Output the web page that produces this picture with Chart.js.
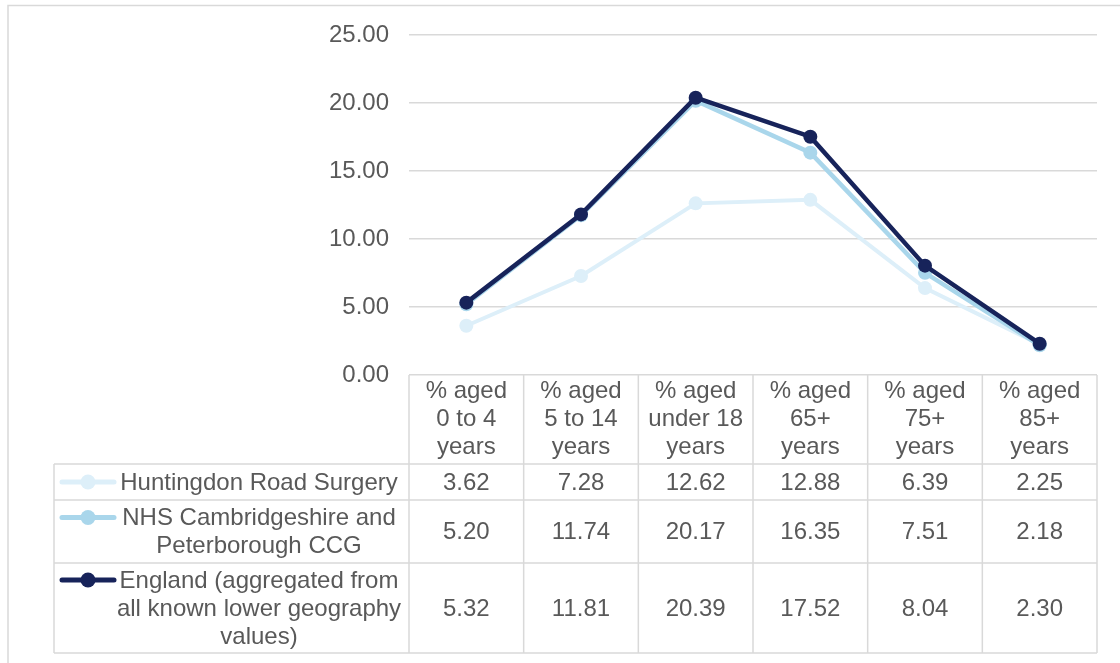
<!DOCTYPE html>
<html><head><meta charset="utf-8">
<script src="https://cdn.jsdelivr.net/npm/chart.js@4.4.1/dist/chart.umd.min.js"></script>
<style>html,body{margin:0;padding:0;background:#fff;overflow:hidden}#wrap{width:1120px;height:663px;position:relative}</style>
</head><body><div id="wrap"><canvas id="c" width="1120" height="663"></canvas></div>
<script>
const categories = [["% aged","0 to 4","years"],["% aged","5 to 14","years"],["% aged","under 18","years"],["% aged","65+","years"],["% aged","75+","years"],["% aged","85+","years"]];
const seriesNames = [["Huntingdon Road Surgery"],["NHS Cambridgeshire and","Peterborough CCG"],["England (aggregated from","all known lower geography","values)"]];
const huntingdon = [3.62, 7.28, 12.62, 12.88, 6.39, 2.25];
const nhsCcg = [5.20, 11.74, 20.17, 16.35, 7.51, 2.18];
const england = [5.32, 11.81, 20.39, 17.52, 8.04, 2.30];
const yMin = 0, yMax = 25, yStep = 5;

const FONT = '"Liberation Sans", Arial, sans-serif';
const TEXT = '#595959';
const GRID = '#d9d9d9';

const tablePlugin = {
  id: 'dataTable',
  beforeDraw(chart) {
    const ctx = chart.ctx;
    ctx.save();
    ctx.fillStyle = '#fff';
    ctx.fillRect(0, 0, chart.width, chart.height);
    ctx.strokeStyle = GRID; ctx.lineWidth = 1.5;
    ctx.strokeRect(8, 5.5, 1300, 900);
    ctx.restore();
  },
  afterDraw(chart) {
    const ctx = chart.ctx, xs = chart.scales.x, area = chart.chartArea;
    const n = categories.length;
    const band = (area.right - area.left) / n;
    const rowLines = [464, 500, 563, 653];
    const legendLeft = 54;
    ctx.save();
    ctx.strokeStyle = GRID; ctx.lineWidth = 1.5;
    rowLines.forEach(y => { ctx.beginPath(); ctx.moveTo(legendLeft, y); ctx.lineTo(area.right, y); ctx.stroke(); });
    for (let i = 0; i <= n; i++) {
      const x = i < n ? xs.getPixelForValue(i) - band / 2 : xs.getPixelForValue(n - 1) + band / 2;
      ctx.beginPath(); ctx.moveTo(x, area.bottom); ctx.lineTo(x, rowLines[3]); ctx.stroke();
    }
    ctx.beginPath(); ctx.moveTo(legendLeft, rowLines[0]); ctx.lineTo(legendLeft, rowLines[3]); ctx.stroke();

    ctx.font = '24px ' + FONT;
    ctx.fillStyle = TEXT;
    ctx.textAlign = 'center';
    ctx.textBaseline = 'middle';
    const lh = 28;
    chart.data.datasets.forEach((ds, r) => {
      const top = rowLines[r], bot = rowLines[r + 1];
      const mid = (top + bot) / 2;
      ds.data.forEach((v, i) => {
        ctx.fillStyle = TEXT;
        ctx.fillText(v.toFixed(2), xs.getPixelForValue(i), mid + 1);
      });
      const lines = seriesNames[r];
      const firstY = mid - (lines.length - 1) * lh / 2 + 1;
      lines.forEach((t, k) => ctx.fillText(t, 259, firstY + k * lh));
      const ky = firstY - 1;
      ctx.strokeStyle = ds.borderColor; ctx.lineWidth = 5; ctx.lineCap = 'round';
      ctx.beginPath(); ctx.moveTo(62, ky); ctx.lineTo(114, ky); ctx.stroke();
      ctx.fillStyle = ds.borderColor;
      ctx.beginPath(); ctx.arc(88, ky, 7.5, 0, Math.PI * 2); ctx.fill();
    });
    ctx.restore();
  }
};

function mkDs(label, data, color, width, order) {
  return { label, data, borderColor: color, backgroundColor: color, pointBackgroundColor: color,
    pointBorderColor: color, pointBorderWidth: 0, pointRadius: 7, pointHoverRadius: 7,
    borderWidth: width, tension: 0, order };
}

new Chart(document.getElementById('c'), {
  type: 'line',
  data: {
    labels: categories,
    datasets: [
      mkDs('Huntingdon Road Surgery', huntingdon, '#ddeff9', 4, 3),
      mkDs('NHS Cambridgeshire and Peterborough CCG', nhsCcg, '#a9d6eb', 4.5, 2),
      mkDs('England (aggregated from all known lower geography values)', england, '#17235a', 4.5, 1)
    ]
  },
  options: {
    responsive: false,
    animation: false,
    devicePixelRatio: 1,
    layout: { padding: { left: 0, top: 35, right: 23, bottom: 0 } },
    plugins: { legend: { display: false }, tooltip: { enabled: false } },
    events: [],
    scales: {
      x: {
        offset: true,
        grid: { display: false, drawTicks: false },
        border: { display: false },
        ticks: { color: TEXT, font: { family: FONT, size: 24, lineHeight: 1.17 }, padding: 2, maxRotation: 0, autoSkip: false },
        afterFit(s) { s.height = 288; }
      },
      y: {
        min: yMin, max: yMax,
        grid: { color: GRID, lineWidth: 1.5, drawTicks: false },
        border: { display: false },
        ticks: { stepSize: yStep, color: TEXT, font: { family: FONT, size: 24 }, padding: 20, callback: v => Number(v).toFixed(2) },
        afterFit(s) { s.width = 409; }
      }
    }
  },
  plugins: [tablePlugin]
});
</script>
</body></html>
